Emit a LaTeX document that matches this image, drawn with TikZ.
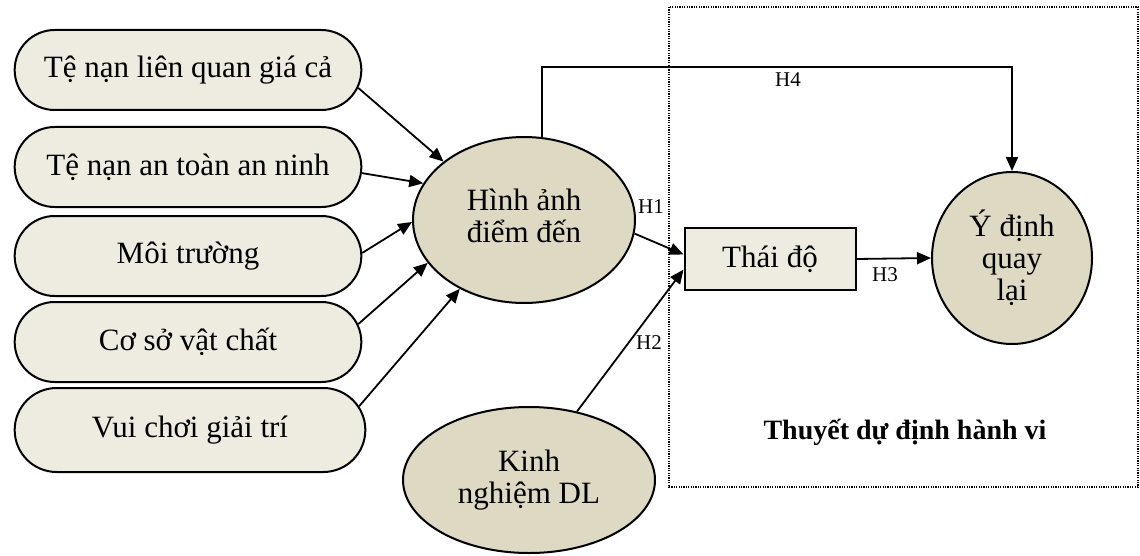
\documentclass[tikz,border=0pt]{standalone}
\usepackage{fontspec}
\setmainfont{Liberation Serif}
\usetikzlibrary{shapes.geometric,shapes.misc,arrows.meta}
\definecolor{tanfill}{HTML}{DDD9C3}
\definecolor{palefill}{HTML}{EEECE1}

\begin{document}
\begin{tikzpicture}[x=0.5pt,y=-0.5pt,
  factor/.style={rounded rectangle,draw,line width=1pt,fill=palefill,
    minimum width=180pt,minimum height=40pt,font=\fontsize{15.5}{16.5}\selectfont},
  latent/.style={ellipse,draw,line width=1pt,fill=tanfill,inner sep=0pt,
    align=center,font=\fontsize{15.5}{16}\selectfont},
  link/.style={-{Triangle[length=7pt,width=6pt]},line width=0.9pt},
  hyp/.style={font=\fontsize{10.5}{12}\selectfont}]
  \useasboundingbox (0,0) rectangle (1140,556);
  % theory frame
  \draw[line width=0.9pt,dash pattern=on 0.6pt off 0.6pt] (669,7) rectangle (1138,487);
  \node[font=\bfseries\fontsize{14}{16}\selectfont] (tpb) at (905,432) {Thuyết dự định hành vi};
  % factors
  \node[factor] (f1) at (188,70) {Tệ nạn liên quan giá cả};
  \node[factor] (f2) at (188,167) {Tệ nạn an toàn an ninh};
  \node[factor] (f3) at (188,256) {Môi trường};
  \node[factor] (f4) at (188,342) {Cơ sở vật chất};
  \node[factor,minimum width=182pt,minimum height=42pt] (f5) at (190,430) {Vui chơi giải trí};
  % constructs
  \node[latent,minimum width=111pt,minimum height=83pt] (img) at (524,220)
    {\raisebox{4pt}{\begin{tabular}{@{}c@{}}Hình ảnh\\điểm đến\end{tabular}}};
  \node[latent,minimum width=126pt,minimum height=73pt] (exp) at (529,480) {Kinh\\nghiệm DL};
  \node[draw,line width=1pt,fill=palefill,minimum width=85.5pt,minimum height=31pt,
    font=\fontsize{15.5}{16.5}\selectfont] (att) at (770,259) {Thái độ};
  \node[latent,minimum width=80pt,minimum height=86pt] (ret) at (1012,258) {Ý định\\quay\\lại};
  % paths
  \draw[link] (f1.-6) -- (img.144);
  \draw[link] (f2.-2) -- (img.160);
  \draw[link] (f3.1) -- (img.181);
  \draw[link] (f4.6) -- (img.204);
  \draw[link] (f5.8) -- (img.227);
  \draw[link] (img.-7) -- (att.177);
  \draw[link] (exp.55) -- (att.187);
  \draw[link] (att.east) -- (ret.west);
  \coordinate (top) at (0,67);
  \draw[link] (img.78) -- (img.78 |- top) -| (ret.north);
  % labels
  \node[hyp] (h1) at (651,207) {H1};
  \node[hyp] (h2) at (649,343) {H2};
  \node[hyp] (h3) at (885,275) {H3};
  \node[hyp] (h4) at (788,80) {H4};
\end{tikzpicture}
\end{document}
